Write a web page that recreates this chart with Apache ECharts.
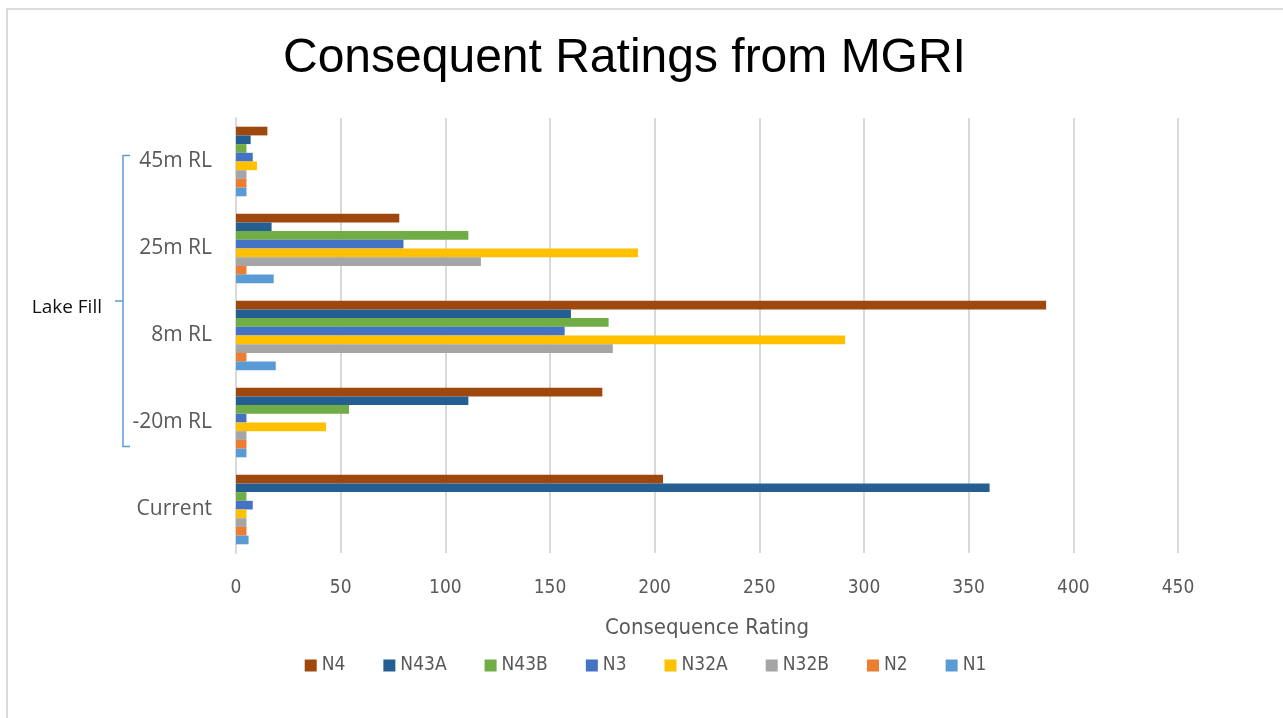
<!DOCTYPE html>
<html>
<head>
<meta charset="utf-8">
<title>Consequent Ratings from MGRI</title>
<script src="https://cdn.jsdelivr.net/npm/echarts@6/dist/echarts.min.js"></script>
<style>
  html, body { margin: 0; padding: 0; background: #fff; }
  #chart { position: absolute; left: 6px; top: 8px; width: 1277px; height: 710px;
    border-left: 2px solid #dcdcdc; border-top: 2px solid #dcdcdc; box-sizing: border-box; }
</style>
</head>
<body>
<div id="chart"></div>
<script>
// categories bottom -> top (as the y axis runs)
const categories = ['Current', '-20m RL', '8m RL', '25m RL', '45m RL']
const seriesNames = ['N4', 'N43A', 'N43B', 'N3', 'N32A', 'N32B', 'N2', 'N1']
const seriesColors = ['#9e480e', '#255e91', '#70ad47', '#4472c4', '#ffc000', '#a5a5a5', '#ed7d31', '#5b9bd5']

// values per series, same order as categories
const N4   = [204, 175, 387, 78, 15]
const N43A = [360, 111, 160, 17, 7]
const N43B = [5, 54, 178, 111, 5]
const N3   = [8, 5, 157, 80, 8]
const N32A = [5, 43, 291, 192, 10]
const N32B = [5, 5, 180, 117, 5]
const N2   = [5, 5, 5, 5, 5]
const N1   = [6, 5, 19, 18, 5]
const seriesData = [N4, N43A, N43B, N3, N32A, N32B, N2, N1]

const xTicks = { min: 0, max: 450, interval: 50 }
const font = '"Liberation Sans Narrow", "DejaVu Sans Condensed", "Liberation Sans", sans-serif'

const chart = echarts.init(document.getElementById('chart'))

// first series is drawn at the top of each group
const series = seriesNames.map((name, i) => ({
  name: name,
  type: 'bar',
  data: seriesData[i],
  barGap: '0%',
  barCategoryGap: '20%',
  itemStyle: { color: seriesColors[i] },
  emphasis: { disabled: true }
}))

chart.setOption({
  animation: false,
  textStyle: { fontFamily: font },
  title: {
    text: 'Consequent Ratings from MGRI',
    left: 270,
    top: 20,
    textStyle: { fontFamily: '"Liberation Sans", Arial, sans-serif', fontSize: 48, fontWeight: 'normal', color: '#000' }
  },
  legend: {
    data: seriesNames,
    bottom: 38,
    left: 'center',
    itemWidth: 12,
    itemHeight: 12,
    itemGap: 38,
    icon: 'rect',
    textStyle: { fontSize: 19, color: '#595959', fontFamily: font }
  },
  grid: { left: 228, right: 105, top: 108, bottom: 165, containLabel: false },
  xAxis: {
    type: 'value',
    min: xTicks.min,
    max: xTicks.max,
    interval: xTicks.interval,
    name: 'Consequence Rating',
    nameLocation: 'middle',
    nameGap: 64,
    nameTextStyle: { fontSize: 22, color: '#595959', fontFamily: font },
    axisLabel: { fontSize: 19, color: '#595959', margin: 26 },
    axisLine: { show: false },
    axisTick: { show: false },
    splitLine: { lineStyle: { color: '#d9d9d9', width: 2 } }
  },
  yAxis: {
    type: 'category',
    data: categories,
    axisLabel: { fontSize: 21, color: '#595959', margin: 24, fontFamily: '"Open Sans", sans-serif' },
    axisLine: { lineStyle: { color: '#d9d9d9', width: 2 } },
    axisTick: { show: false }
  },
  series: series
})

// "Lake Fill" bracket spanning the four lake-fill categories
const braceTop = chart.convertToPixel({ yAxisIndex: 0 }, '45m RL') - 6
const braceBottom = chart.convertToPixel({ yAxisIndex: 0 }, '-20m RL') + 24
const braceMid = (braceTop + braceBottom) / 2
const bx = 114
chart.setOption({
  graphic: [
    {
      type: 'polyline',
      shape: { points: [[bx + 8, braceTop], [bx + 1, braceTop], [bx + 1, braceBottom], [bx + 8, braceBottom]] },
      style: { stroke: '#5b9bd5', lineWidth: 1.5, fill: null }
    },
    {
      type: 'line',
      shape: { x1: bx - 7, y1: braceMid, x2: bx + 1, y2: braceMid },
      style: { stroke: '#5b9bd5', lineWidth: 1.5 }
    },
    {
      type: 'text',
      x: bx - 20,
      y: braceMid + 7,
      style: { text: 'Lake Fill', fontSize: 19, fontFamily: '"Open Sans", sans-serif', fill: '#111', align: 'right', verticalAlign: 'middle' }
    }
  ]
})
</script>
</body>
</html>
